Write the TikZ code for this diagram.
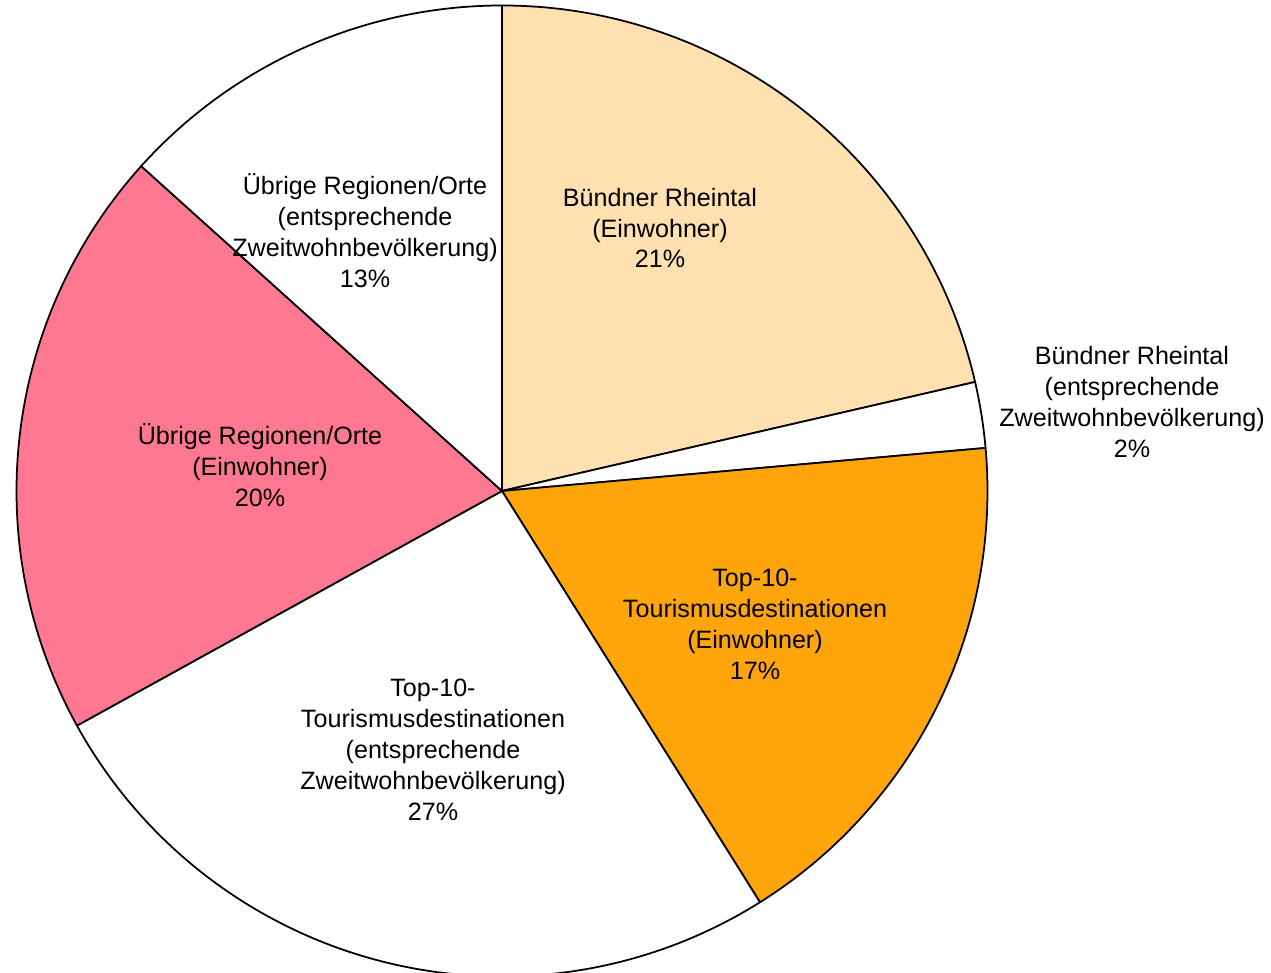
\documentclass[tikz,border=0pt]{standalone}
\usepackage{fontspec}
\setmainfont{Liberation Sans}
\usepackage{tikz}
\usetikzlibrary{calc}
\definecolor{peach}{RGB}{255,224,176}
\definecolor{tourorange}{RGB}{255,165,12}
\definecolor{rosepink}{RGB}{255,120,145}
\def\pieradius{9.71cm}
\def\drawslice#1#2#3{%
  \draw [#3] (0,0) -- (#1:\pieradius)
  arc [start angle = #1, end angle = #2, radius = \pieradius] -- cycle;
}
\tikzset{
  slicelabel/.style = {align = center, inner sep = 0pt,
    font = \fontsize{14.3}{17.6}\selectfont}
}
\begin{document}
\begin{tikzpicture}[line width = 1pt, line join = round]

  \useasboundingbox (-10.04,-9.64) rectangle (15.38,9.82);

  \drawslice{90}{12.98}{fill = peach}
  \drawslice{12.98}{5.09}{fill = white}
  \drawslice{5.09}{-57.9}{fill = tourorange}
  \drawslice{-57.9}{-151.1}{fill = white}
  \drawslice{-151.1}{-222}{fill = rosepink}
  \drawslice{-222}{-270}{fill = white}

  \node [slicelabel] (rhein_ew) at (3.16,5.26)
    {Bündner Rheintal\\(Einwohner)\\21\%};
  \node [slicelabel] (rhein_zw) at (12.6,1.78)
    {Bündner Rheintal\\(entsprechende\\Zweitwohnbevölkerung)\\2\%};
  \node [slicelabel] (top_ew) at (5.06,-2.67)
    {Top-10-\\Tourismusdestinationen\\(Einwohner)\\17\%};
  \node [slicelabel] (top_zw) at (-1.38,-5.18)
    {Top-10-\\Tourismusdestinationen\\(entsprechende\\Zweitwohnbevölkerung)\\27\%};
  \node [slicelabel] (rest_ew) at (-4.84,0.52)
    {Übrige Regionen/Orte\\(Einwohner)\\20\%};
  \node [slicelabel] (rest_zw) at (-2.74,5.2)
    {Übrige Regionen/Orte\\(entsprechende\\Zweitwohnbevölkerung)\\13\%};

\end{tikzpicture}
\end{document}
